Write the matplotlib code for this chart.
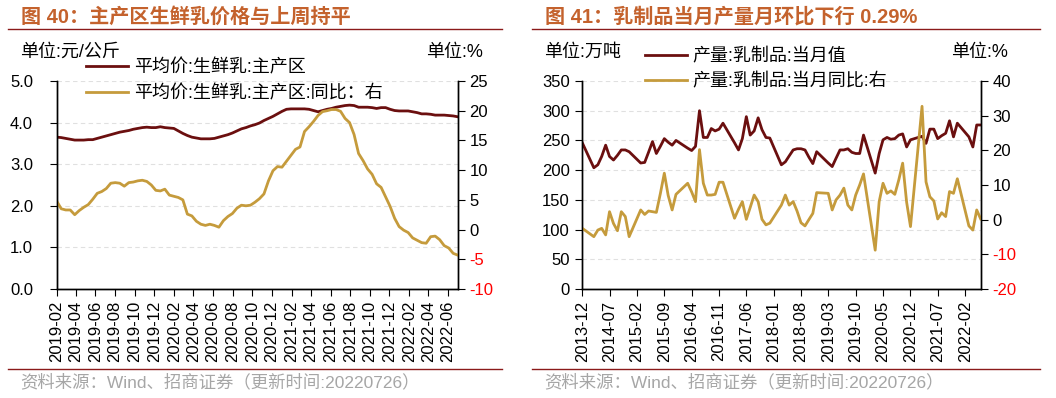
import matplotlib.pyplot as plt
import pandas as pd
from matplotlib.lines import Line2D

plt.rcParams['font.family'] = ['Liberation Sans', 'Noto Sans CJK SC']
plt.rcParams['axes.unicode_minus'] = False

# 图40: 主产区生鲜乳平均价 (weekly series, read every two weeks)
price_dates = pd.date_range('2019-02-01', periods=90, freq='14D')
price = [3.65, 3.64, 3.62, 3.60, 3.58, 3.58, 3.58, 3.59, 3.59, 3.62,
         3.65, 3.68, 3.71, 3.74, 3.77, 3.79, 3.81, 3.84, 3.86, 3.88,
         3.89, 3.88, 3.88, 3.90, 3.88, 3.87, 3.86, 3.80, 3.74, 3.69,
         3.65, 3.63, 3.61, 3.61, 3.61, 3.62, 3.65, 3.68, 3.71, 3.75,
         3.80, 3.85, 3.88, 3.92, 3.95, 3.99, 4.05, 4.10, 4.15, 4.21,
         4.27, 4.32, 4.33, 4.33, 4.33, 4.33, 4.32, 4.29, 4.26, 4.29,
         4.32, 4.34, 4.37, 4.39, 4.41, 4.42, 4.41, 4.37, 4.37, 4.37,
         4.36, 4.34, 4.36, 4.36, 4.32, 4.29, 4.28, 4.28, 4.28, 4.26,
         4.24, 4.21, 4.21, 4.20, 4.18, 4.18, 4.18, 4.17, 4.16, 4.14]
price_yoy = [4.8, 3.5, 3.3, 3.3, 2.5, 3.2, 3.75, 4.2, 5.1, 6.1,
             6.4, 6.9, 7.8, 7.9, 7.8, 7.3, 7.9, 8.0, 8.2, 8.3,
             8.1, 7.5, 6.6, 6.5, 6.8, 5.8, 5.6, 5.4, 5.0, 2.6,
             2.3, 1.4, 0.9, 0.7, 0.9, 0.7, 0.4, 1.5, 2.2, 2.7,
             3.6, 4.1, 4.0, 4.1, 4.6, 5.2, 6.0, 8.2, 9.9, 10.6,
             10.5, 11.5, 12.5, 13.5, 13.9, 16.5, 17.3, 18.2, 19.2, 19.85,
             20.0, 20.2, 20.2, 19.9, 18.7, 18.0, 16.0, 12.8, 11.6, 10.2,
             9.3, 7.7, 7.1, 5.5, 3.9, 1.9, 0.5, -0.1, -0.5, -1.4,
             -1.8, -2.2, -2.3, -1.2, -1.1, -1.7, -2.7, -3.1, -4.0, -4.3]

# 图41: 乳制品产量 (Jan/Feb are not published separately)
output_months = (['2013-12']
                 + [f'{y}-{m:02d}' for y in range(2014, 2022) for m in range(3, 13)]
                 + [f'2022-{m:02d}' for m in range(3, 7)])
output = [246,
          204, 209, 223, 242, 223, 217, 225, 234, 234, 231,
          212, 213, 230, 248, 228, 240, 253, 247, 242, 250,
          237, 233, 240, 300, 255, 255, 270, 266, 269, 279,
          246, 234, 253, 290, 259, 266, 288, 268, 255, 254,
          209, 214, 224, 234, 236, 236, 234, 222, 211, 231,
          212, 206, 220, 234, 234, 236, 230, 228, 228, 259,
          195, 228, 251, 255, 252, 253, 259, 261, 239, 251,
          257, 245, 269, 269, 253, 258, 262, 283, 256, 279,
          256, 239, 276, 276]
output_yoy = [-2.5,
              -4.9, -3.0, -2.5, -4.4, 2.3, -1.1, -3.2, 2.3, 0.9, -4.9,
              2.8, 1.5, 2.5, 2.3, 2.1, 7.5, 13.4, 7.0, 2.8, 7.3,
              10.5, 8.0, 5.2, 20.2, 10.5, 7.1, 7.1, 7.3, 10.8, 10.8,
              0.4, 3.0, 5.2, 0.1, 3.5, 7.1, 5.2, 0.1, -1.5, -1.0,
              4.2, 7.1, 4.2, 5.2, 2.5, -0.9, -1.8, 0.0, 1.8, 7.8,
              7.6, 2.8, 5.7, 7.1, 9.1, 4.2, 2.8, 7.1, 10.0, 13.2,
              -8.8, 5.2, 10.5, 7.6, 8.3, 7.3, 11.5, 16.3, 5.0, -2.0,
              32.7, 10.9, 6.6, 5.4, 0.2, 2.0, 0.9, 8.1, 7.6, 11.8,
              -1.8, -3.0, 2.8, 0.2]

DARK = '#6B0F0F'
GOLD = '#C59B3C'
TITLE_C = '#C4622D'
RULE_C = '#8B1A1A'
GRAY = '#A6A6A6'

W, H = 1056, 398
fig = plt.figure(figsize=(W / 100, H / 100), dpi=100)


def fx(px):
    return px / W


def fy(py):
    return 1 - py / H


def make_axes(x0, x1):
    ax = fig.add_axes([fx(x0), fy(289), fx(x1 - x0), (289 - 81) / H])
    ax2 = ax.twinx()
    for a in (ax, ax2):
        a.spines['top'].set_visible(False)
        for s in a.spines.values():
            s.set_linewidth(1.0)
        a.tick_params(labelsize=12, length=5, width=0.8)
    ax.yaxis.grid(True, linestyle=(0, (4, 3)), color='#E0E0E0', linewidth=0.8)
    ax.set_axisbelow(True)
    return ax, ax2


def right_ticks(ax2, ticks):
    ax2.set_yticks(ticks, [str(t) for t in ticks])
    for lbl, t in zip(ax2.get_yticklabels(), ticks):
        if t < 0:
            lbl.set_color('#FF0000')


def frame(x0, x1, title, unit_left, unit_right_x):
    fig.text(fx(x0 + 13), fy(17), title, color=TITLE_C, fontsize=14.5,
             fontweight='bold', va='center')
    for y in (29, 369):
        fig.add_artist(Line2D([fx(x0), fx(x1)], [fy(y), fy(y)], color=RULE_C,
                              lw=1.0, transform=fig.transFigure))
    fig.text(fx(x0 + 12), fy(52), unit_left, fontsize=13, va='center')
    fig.text(fx(unit_right_x), fy(52), '单位:%', fontsize=13, va='center', ha='right')
    fig.text(fx(x0 + 12), fy(382), '资料来源：Wind、招商证券（更新时间:20220726）',
             color=GRAY, fontsize=12.5, va='center')


# ---- 图40
ax, ax2 = make_axes(56.7, 457.7)
l1, = ax.plot(price_dates, price, color=DARK, lw=2.0)
l2, = ax2.plot(price_dates, price_yoy, color=GOLD, lw=2.0)
ax.set_xlim(price_dates[0], price_dates[-1])
ax.set_ylim(0, 5)
ax.set_yticks([0, 1, 2, 3, 4, 5], [f'{v:.1f}' for v in [0, 1, 2, 3, 4, 5]])
ax.tick_params(axis='y', pad=12)
ax2.set_ylim(-10, 25)
right_ticks(ax2, [-10, -5, 0, 5, 10, 15, 20, 25])
xt = pd.date_range('2019-02-01', '2022-06-01', freq='2MS')
ax.set_xticks(xt, [d.strftime('%Y-%m') for d in xt], rotation=90)
fig.legend([l1, l2], ['平均价:生鲜乳:主产区', '平均价:生鲜乳:主产区:同比：右'],
           loc='upper left', bbox_to_anchor=(fx(86), fy(59)), frameon=False,
           fontsize=13, handlelength=2.3, handletextpad=0.35, labelspacing=0.5,
           borderpad=0, borderaxespad=0)
frame(8, 502, '图 40：主产区生鲜乳价格与上周持平', '单位:元/公斤', 483)

# ---- 图41
out_dates = pd.to_datetime(output_months)
bx, bx2 = make_axes(582.3, 980.7)
m1, = bx.plot(out_dates, output, color=DARK, lw=2.0)
m2, = bx2.plot(out_dates, output_yoy, color=GOLD, lw=2.0)
bx.set_xlim(pd.Timestamp('2013-12-01'), pd.Timestamp('2022-06-01'))
bx.set_ylim(0, 350)
bx.set_yticks(range(0, 351, 50))
bx.tick_params(axis='y', pad=4)
bx2.set_ylim(-20, 40)
right_ticks(bx2, [-20, -10, 0, 10, 20, 30, 40])
xt2 = pd.date_range('2013-12-01', '2022-02-01', freq='7MS')
bx.set_xticks(xt2, [d.strftime('%Y-%m') for d in xt2], rotation=90)
fig.legend([m1, m2], ['产量:乳制品:当月值', '产量:乳制品:当月同比:右'],
           loc='upper left', bbox_to_anchor=(fx(645), fy(48)), frameon=False,
           fontsize=13, handlelength=2.3, handletextpad=0.35, labelspacing=0.45,
           borderpad=0, borderaxespad=0)
frame(532, 1040, '图 41：乳制品当月产量月环比下行 0.29%', '单位:万吨', 1008)

fig.savefig('out.png', dpi=100)
